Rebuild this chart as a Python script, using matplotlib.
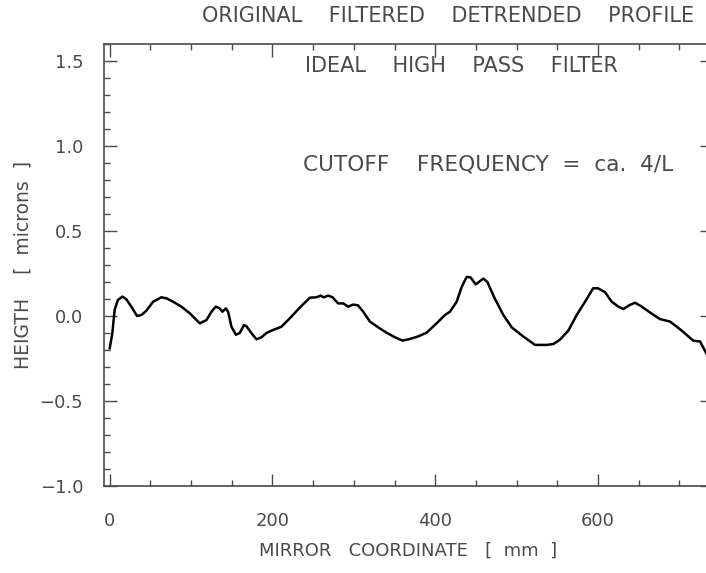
import matplotlib
matplotlib.use("Agg")
import matplotlib.pyplot as plt
from matplotlib.ticker import MultipleLocator

# Filtered, detrended mirror height profile
coord_mm = [0, 3.3, 6, 10, 15.6, 20.5, 26.6, 33.6, 39, 45, 53.3, 63.5, 69.7, 77.9,
            88, 98.4, 110.7, 118.9, 125, 130.3, 135, 138.5, 142.6, 145.5, 149.6,
            155, 159.8, 165, 168, 174, 180.3, 186.5, 192.6, 200.8, 211, 222,
            233.6, 246, 254, 259, 263, 268.5, 273.8, 280.7, 287, 293, 299, 305,
            311.5, 319.7, 330, 340, 350.4, 360, 368.9, 379, 389.4, 401.6, 412,
            418, 426.3, 432.4, 438.6, 443.4, 449.6, 455, 459, 464, 473, 483.6,
            494, 508, 522.6, 537, 545, 553, 563.5, 573.8, 584, 594, 600, 608.6,
            616.8, 625, 631, 639, 645.5, 653.7, 664, 676, 688.5, 700.8, 717,
            725.4, 733]
height_um = [-0.19, -0.10, 0.035, 0.094, 0.114, 0.098, 0.055, 0.0, 0.006, 0.031,
             0.084, 0.11, 0.104, 0.084, 0.055, 0.016, -0.043, -0.024, 0.025,
             0.055, 0.045, 0.025, 0.045, 0.025, -0.063, -0.11, -0.10, -0.053,
             -0.06, -0.10, -0.137, -0.125, -0.10, -0.082, -0.063, -0.01, 0.05,
             0.108, 0.11, 0.12, 0.11, 0.12, 0.11, 0.074, 0.074, 0.055, 0.067,
             0.063, 0.025, -0.033, -0.067, -0.098, -0.125, -0.145, -0.135,
             -0.12, -0.098, -0.043, 0.006, 0.025, 0.084, 0.17, 0.23, 0.227,
             0.186, 0.205, 0.22, 0.20, 0.104, 0.006, -0.067, -0.12, -0.17,
             -0.17, -0.165, -0.14, -0.086, 0.006, 0.084, 0.163, 0.163, 0.14,
             0.084, 0.055, 0.041, 0.065, 0.078, 0.055, 0.02, -0.018, -0.033,
             -0.078, -0.145, -0.15, -0.22]

x_ticks = [0, 200, 400, 600]
y_ticks = [-1.0, -0.5, 0.0, 0.5, 1.0, 1.5]
y_tick_labels = ["\u22121.0", "\u22120.5", "0.0", "0.5", "1.0", "1.5"]

ink = "#4a4a4a"
plt.rcParams["font.family"] = ["DejaVu Sans"]

fig = plt.figure(figsize=(7.06, 5.73), dpi=100)
ax = fig.add_axes([104 / 706, 1 - 486 / 573, (712 - 104) / 706, (486 - 44) / 573])

ax.plot(coord_mm, height_um, color="black", lw=1.8, solid_joinstyle="round")

ax.set_xlim(-7, 740)
ax.set_ylim(-1.0, 1.6)

ax.set_xticks(x_ticks)
ax.set_yticks(y_ticks)
ax.set_yticklabels(y_tick_labels)
ax.xaxis.set_minor_locator(MultipleLocator(50))
ax.yaxis.set_minor_locator(MultipleLocator(0.1))
ax.tick_params(which="both", direction="in", top=True, right=True, color=ink,
               labelcolor=ink, labelsize=13, width=1)
ax.tick_params(axis="x", which="major", length=9, pad=19)
ax.tick_params(axis="y", which="major", length=9, pad=15)
ax.tick_params(which="minor", length=4)
for s in ax.spines.values():
    s.set_color(ink)
    s.set_linewidth(1.2)

ax.set_xlabel("MIRROR   COORDINATE   [  mm  ]", color=ink, fontsize=13, labelpad=8)
ax.set_ylabel("HEIGTH    [  microns  ]", color=ink, fontsize=13.5, labelpad=5)
fig.text(0.635, 0.972, "ORIGINAL    FILTERED    DETRENDED    PROFILE", color=ink,
         fontsize=15, ha="center", va="center")

ax.text(240, 1.47, "IDEAL    HIGH    PASS    FILTER", color=ink, fontsize=15,
        ha="left", va="center")
ax.text(238, 0.89, "CUTOFF    FREQUENCY  =  ca.  4/L", color=ink, fontsize=15.6,
        ha="left", va="center")

fig.savefig("out.png", dpi=100)
